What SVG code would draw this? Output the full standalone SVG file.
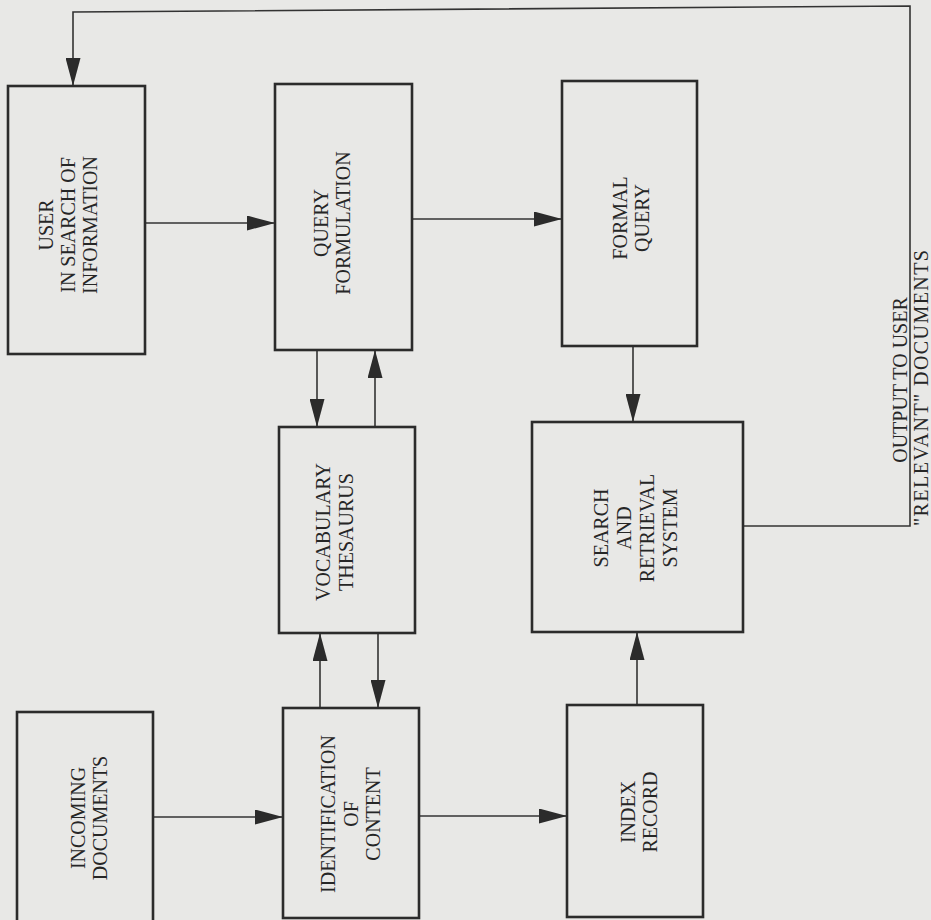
<svg xmlns="http://www.w3.org/2000/svg" width="931" height="920" viewBox="0 0 931 920">
<style>
.box{fill:none;stroke:#2b2b2b;stroke-width:2.6}
.con{fill:none;stroke:#333;stroke-width:1.6}
.lbl{font-family:"Liberation Serif",serif;font-size:20px;fill:#262626;text-anchor:middle}
</style>
<defs>
<marker id="ah" markerUnits="userSpaceOnUse" markerWidth="28" markerHeight="15" refX="28" refY="7.5" orient="auto">
<path d="M0,0 L28,7.5 L0,15 Z" fill="#2b2b2b"/>
</marker>
</defs>
<rect x="0" y="0" width="931" height="920" fill="#e8e8e6"/>
<g id="connectors">
<path class="con" d="M743,526 H910 V6 L73,12 V86" marker-end="url(#ah)"/>
<path class="con" d="M145,223 H275" marker-end="url(#ah)"/>
<path class="con" d="M412,219 H562" marker-end="url(#ah)"/>
<path class="con" d="M317,350 V427" marker-end="url(#ah)"/>
<path class="con" d="M375,427 V350" marker-end="url(#ah)"/>
<path class="con" d="M320,708 V633" marker-end="url(#ah)"/>
<path class="con" d="M378,633 V708" marker-end="url(#ah)"/>
<path class="con" d="M153,817 H283" marker-end="url(#ah)"/>
<path class="con" d="M419,816 H567" marker-end="url(#ah)"/>
<path class="con" d="M637,705 V632" marker-end="url(#ah)"/>
<path class="con" d="M633,346 V422" marker-end="url(#ah)"/>
</g>
<g id="user">
<rect class="box" x="8" y="86" width="137" height="268"/>
<g transform="translate(76,225) rotate(-90)">
<text class="lbl" x="0" y="-23">USER</text>
<text class="lbl" x="0" y="-1">IN SEARCH OF</text>
<text class="lbl" x="0" y="21">INFORMATION</text>
</g>
</g>
<g id="query">
<rect class="box" x="275" y="84" width="137" height="266"/>
<g transform="translate(343,223) rotate(-90)">
<text class="lbl" x="0" y="-15">QUERY</text>
<text class="lbl" x="0" y="7">FORMULATION</text>
</g>
</g>
<g id="formal">
<rect class="box" x="562" y="81" width="135" height="265"/>
<g transform="translate(629,218) rotate(-90)">
<text class="lbl" x="0" y="-2">FORMAL</text>
<text class="lbl" x="0" y="20">QUERY</text>
</g>
</g>
<g id="vocab">
<rect class="box" x="279" y="427" width="136" height="206"/>
<g transform="translate(347,532) rotate(-90)">
<text class="lbl" x="0" y="-17">VOCABULARY</text>
<text class="lbl" x="0" y="6">THESAURUS</text>
</g>
</g>
<g id="search">
<rect class="box" x="532" y="422" width="211" height="210"/>
<g transform="translate(637,528) rotate(-90)">
<text class="lbl" x="0" y="-29">SEARCH</text>
<text class="lbl" x="0" y="-6">AND</text>
<text class="lbl" x="0" y="17">RETRIEVAL</text>
<text class="lbl" x="0" y="40">SYSTEM</text>
</g>
</g>
<g id="incoming">
<rect class="box" x="17" y="712" width="136" height="212"/>
<g transform="translate(85,818) rotate(-90)">
<text class="lbl" x="0" y="0">INCOMING</text>
<text class="lbl" x="0" y="22">DOCUMENTS</text>
</g>
</g>
<g id="ident">
<rect class="box" x="283" y="708" width="136" height="210"/>
<g transform="translate(351,814) rotate(-90)">
<text class="lbl" x="0" y="-16">IDENTIFICATION</text>
<text class="lbl" x="0" y="7">OF</text>
<text class="lbl" x="0" y="29">CONTENT</text>
</g>
</g>
<g id="index">
<rect class="box" x="567" y="705" width="136" height="212"/>
<g transform="translate(635,812) rotate(-90)">
<text class="lbl" x="0" y="0">INDEX</text>
<text class="lbl" x="0" y="22">RECORD</text>
</g>
</g>
<g id="output-label">
<g transform="translate(907,380) rotate(-90)">
<text class="lbl" x="0" y="0">OUTPUT TO USER</text>
</g>
<g transform="translate(927.5,388) rotate(-90)">
<text class="lbl" x="0" y="0" textLength="276" lengthAdjust="spacing">"RELEVANT" DOCUMENTS</text>
</g>
</g>
</svg>
